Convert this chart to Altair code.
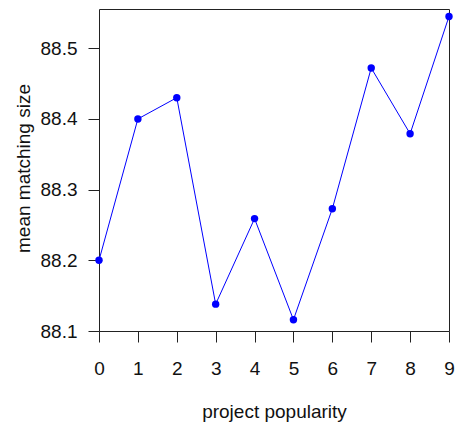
import altair as alt
import pandas as pd

popularity = [0, 1, 2, 3, 4, 5, 6, 7, 8, 9]
matching = [88.200, 88.400, 88.430, 88.138, 88.259, 88.116, 88.273, 88.472, 88.379, 88.545]
y_ticks = [88.1, 88.2, 88.3, 88.4, 88.5]

df = pd.DataFrame({"popularity": popularity, "matching": matching})

FONT = "Liberation Sans"
FS = 19
W = 350
H = 322

x = alt.X(
    "popularity:Q",
    scale=alt.Scale(domain=[0, 9], nice=False, zero=False),
    axis=alt.Axis(
        title="project popularity",
        values=popularity,
        format="d",
        domain=False,
        grid=False,
        tickSize=11,
        tickColor="#222",
        tickWidth=1,
        labelPadding=17,
        labelFont=FONT,
        labelFontSize=FS,
        labelColor="#111",
        labelFlush=False,
        titleFont=FONT,
        titleFontSize=FS,
        titleFontWeight="normal",
        titleColor="#111",
        titleBaseline="alphabetic",
        titleY=86,
        titleAlign="center",
        titleX=W / 2,
    ),
)
y = alt.Y(
    "matching:Q",
    scale=alt.Scale(domain=[88.1, 88.5555], nice=False, zero=False),
    axis=alt.Axis(
        title="mean matching size",
        values=y_ticks,
        format=".1f",
        domain=False,
        grid=False,
        tickSize=11,
        tickColor="#222",
        tickWidth=1,
        labelPadding=11,
        labelFont=FONT,
        labelFontSize=FS,
        labelColor="#111",
        labelFlush=False,
        labelBaseline="middle",
        titleFont=FONT,
        titleFontSize=FS,
        titleFontWeight="normal",
        titleColor="#111",
        titleAngle=-90,
        titleBaseline="alphabetic",
        titleAlign="center",
        titleX=-70,
        titleY=159,
    ),
)

line = alt.Chart(df).mark_line(color="#0000ff", strokeWidth=1).encode(x=x, y=y)
points = alt.Chart(df).mark_circle(color="#0000ff", size=55, opacity=1).encode(x=x, y=y)

chart = (
    alt.layer(line, points)
    .properties(
        width=W,
        height=H,
        autosize=alt.AutoSizeParams(type="none"),
        padding={"left": 91, "top": 1, "right": 6, "bottom": 93},
        background="white",
    )
    .configure_view(stroke="#222", strokeWidth=1)
)

chart.save("out.html", embed_options={"renderer": "svg", "actions": False})
